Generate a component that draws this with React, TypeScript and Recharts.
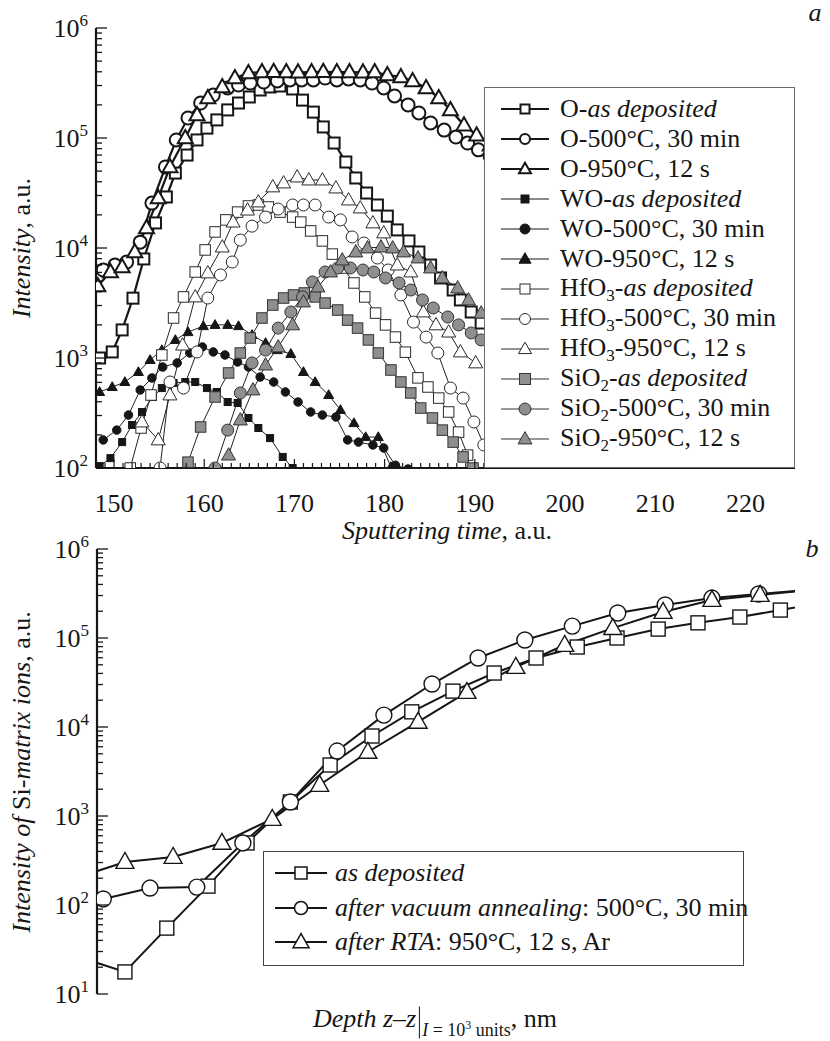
import React from 'react';
import { LineChart, Line, XAxis, YAxis, Legend } from 'recharts';

const SERIF = '"Liberation Serif", "Times New Roman", Times, serif';
const INK = '#161616';
const GREY = '#8f8f8f';

// ---- panel a: sputtering time (a.u.) / intensity (a.u.) ----
const oAsT = [148.4, 149.8, 150.9, 152.1, 153.3, 154.6, 155.8, 156.8, 158.1, 159.2, 160.3, 161.4, 162.6, 163.8, 165.0, 166.2, 167.3, 168.4, 169.8, 170.9, 172.1, 173.2, 174.4, 175.7, 176.8, 178.0, 179.2, 180.3, 181.4, 182.7, 183.8, 185.1, 186.2, 187.6, 188.4, 189.6, 190.7, 191.9];
const oAsI = [1000, 1135, 1800, 3500, 7950, 16900, 29100, 48000, 70000, 96000, 123000, 146000, 180000, 208000, 236000, 273000, 291000, 297000, 279000, 221000, 172000, 126000, 90000, 60500, 43300, 31600, 24600, 19500, 14600, 11600, 9200, 7000, 5340, 4150, 3370, 2620, 2080, 1650];

const o500T = [148.8, 150.1, 151.4, 152.9, 154.2, 155.7, 156.9, 158.2, 159.6, 161.0, 162.6, 163.8, 165.1, 166.6, 168.1, 169.5, 170.8, 172.1, 173.4, 174.7, 176.0, 177.3, 178.6, 179.9, 181.1, 182.6, 183.8, 185.1, 186.6, 187.9, 189.2, 190.4, 191.7];
const o500I = [6310, 7000, 7460, 11300, 25600, 54500, 96000, 152000, 208000, 246000, 285000, 303000, 316000, 323000, 330000, 337000, 337000, 337000, 351000, 337000, 344000, 337000, 316000, 285000, 241000, 200000, 169000, 137000, 118000, 102000, 90000, 78000, 68000];

const o950T = [148.2, 149.6, 150.9, 152.3, 153.6, 154.9, 156.2, 157.9, 159.2, 160.4, 162.0, 163.4, 164.9, 166.4, 167.7, 169.1, 170.4, 171.9, 173.2, 174.7, 176.1, 177.6, 178.9, 180.3, 181.8, 183.1, 184.6, 186.0, 187.3, 188.8, 190.2, 191.7];
const o950I = [4520, 6050, 6720, 9200, 15200, 28500, 54500, 100000, 162000, 231000, 291000, 351000, 390000, 398000, 400000, 398000, 396000, 398000, 400000, 398000, 398000, 396000, 398000, 374000, 359000, 330000, 285000, 231000, 180000, 131000, 106000, 86000];

const woAsT = [148.4, 149.6, 150.9, 152.0, 153.1, 154.3, 155.3, 156.6, 157.9, 159.0, 160.3, 161.4, 162.6, 163.7, 164.9, 166.0, 167.3, 168.7, 169.8];
const woAsI = [104, 123, 172, 246, 323, 442, 533, 593, 605, 605, 533, 491, 398, 390, 285, 231, 187, 126, 100];

const wo500T = [148.8, 150.3, 151.6, 152.9, 154.2, 155.4, 157.0, 158.4, 159.8, 161.0, 162.3, 163.7, 164.9, 166.2, 167.7, 169.0, 170.4, 171.8, 173.1, 174.6, 175.9, 177.1, 178.7, 179.9, 181.2, 182.6];
const wo500I = [180, 221, 303, 512, 658, 828, 902, 1110, 1260, 1135, 1065, 920, 828, 671, 605, 491, 398, 323, 303, 291, 180, 172, 162, 152, 106, 98];

const wo950T = [148.4, 149.8, 151.2, 152.7, 154.0, 155.3, 156.8, 158.2, 159.9, 161.2, 162.6, 163.8, 165.3, 166.8, 168.1, 169.6, 171.0, 172.3, 173.8, 175.1, 176.6, 177.9, 179.3, 180.7];
const wo950I = [491, 545, 605, 746, 960, 1180, 1460, 1720, 1950, 2000, 2000, 1950, 1620, 1370, 1180, 1090, 746, 605, 461, 337, 256, 191, 191, 102];

const hfAsT = [151.8, 153.0, 154.1, 155.3, 156.6, 157.7, 159.0, 160.1, 161.2, 162.4, 163.7, 164.9, 166.0, 167.1, 168.4, 169.8, 170.7, 171.8, 173.1, 174.2, 175.4, 176.6, 177.8, 179.0, 180.1, 181.2, 182.3, 183.7, 184.8, 186.0, 187.1, 188.2, 189.2];
const hfAsI = [100, 231, 461, 1065, 2310, 3590, 6050, 9600, 14000, 18000, 21200, 24100, 24600, 23600, 21200, 19100, 17200, 14300, 11600, 8800, 6580, 4810, 3590, 2560, 2000, 1550, 1130, 660, 545, 432, 323, 212, 131];

const hf500T = [155.1, 156.2, 157.7, 159.2, 160.4, 161.8, 163.1, 164.0, 165.3, 166.8, 168.2, 169.8, 171.0, 172.3, 173.8, 175.1, 176.4, 177.7, 179.2, 180.4, 181.8, 183.2, 184.6, 185.9, 187.3, 188.7, 189.9, 191.0];
const hf500I = [100, 605, 533, 1135, 3510, 5690, 7460, 11800, 15800, 19100, 22600, 24600, 24600, 24600, 19100, 18000, 12600, 11100, 8110, 6310, 3740, 2120, 1550, 1110, 533, 432, 262, 162];

const hf950T = [153.1, 154.9, 156.2, 157.6, 159.0, 160.4, 162.0, 163.2, 164.8, 166.0, 167.6, 168.8, 170.3, 171.6, 173.1, 174.6, 176.0, 177.3, 178.7, 179.9, 181.4, 182.9, 184.3, 185.7, 187.1, 188.4, 190.1];
const hf950I = [262, 180, 461, 1310, 3590, 5930, 10200, 17200, 22100, 26200, 35900, 39000, 44200, 41500, 41500, 35100, 27300, 23100, 16900, 13700, 7000, 6050, 2620, 2000, 1720, 1135, 902];

const siAsT = [158.2, 159.6, 161.2, 162.7, 164.0, 165.1, 166.4, 167.6, 168.8, 169.9, 171.1, 172.3, 173.4, 174.8, 175.9, 177.0, 178.2, 179.3, 180.7, 181.8, 182.9, 184.0, 185.3, 186.4, 187.6, 188.7, 189.8];
const siAsI = [113, 236, 442, 731, 1110, 1520, 2310, 3030, 3510, 3740, 3900, 3590, 3160, 2730, 2210, 1870, 1460, 1110, 778, 605, 481, 351, 285, 221, 172, 126, 100];

const si500T = [161.2, 162.6, 164.0, 165.3, 166.8, 168.2, 169.6, 170.9, 172.0, 173.4, 174.8, 176.2, 177.6, 178.8, 180.1, 181.6, 182.9, 184.2, 185.4, 187.0, 188.2, 189.6, 190.7];
const si500I = [100, 221, 481, 902, 1180, 1870, 2620, 3590, 4910, 6050, 6580, 6580, 6310, 6050, 5340, 4810, 4150, 3370, 2850, 2360, 2000, 1690, 1460];

const si950T = [162.7, 164.0, 165.4, 166.8, 168.2, 169.8, 171.0, 172.6, 174.0, 175.3, 176.8, 178.1, 179.6, 180.9, 182.1, 183.7, 185.1, 186.4, 188.1, 189.3, 190.7];
const si950I = [131, 273, 512, 863, 1260, 2000, 3230, 4420, 6050, 7780, 9200, 10000, 10200, 10000, 9200, 8110, 6580, 5340, 4330, 3370, 2560];

const materials = ['O', 'WO', 'HfO3', 'SiO2'];
const treatments = ['as deposited', '500°C, 30 min', '950°C, 12 s'];
const xMajorA = [150, 160, 170, 180, 190, 200, 210, 220];

// ---- panel b: depth (unlabelled axis, arbitrary units) / Si-matrix intensity ----
const depthSq = [-1.9, 4.0, 10.0, 15.9, 21.5, 27.7, 33.4, 39.4, 45.1, 51.0, 56.9, 62.9, 68.8, 74.5, 80.4, 86.1, 92.1, 97.9, 103.6];
const siSq = [25, 17.7, 55, 163, 498, 1436, 3740, 7920, 14800, 25300, 40400, 59600, 79200, 100000, 126000, 148000, 172000, 206000, 247000];
const depthCi = [0.9, 7.6, 14.3, 20.9, 27.7, 34.4, 41.1, 48.0, 54.6, 61.3, 68.1, 74.6, 81.4, 88.1, 94.8, 101.6];
const siCi = [117, 155, 159, 498, 1436, 5370, 13600, 30400, 59600, 95000, 136000, 191000, 235000, 281000, 312000, 346000];
const depthTr = [-3.0, 4.0, 10.9, 17.9, 25.1, 31.9, 38.8, 46.0, 53.0, 60.0, 67.0, 73.9, 81.1, 88.1, 95.0, 102.0];
const siTr = [201, 304, 346, 498, 925, 2230, 5240, 11400, 24700, 47200, 83400, 129000, 196000, 267000, 304000, 346000];
const bLabels = [['as deposited', ''], ['after vacuum annealing', ': 500°C, 30 min'], ['after RTA', ': 950°C, 12 s, Ar']];

const decadesA = [100, 1000, 10000, 100000, 1000000];
const decadesB = [10, 100, 1000, 10000, 100000, 1000000];

function logTicks(decades: number[]) {
  const out: number[] = [];
  decades.slice(0, -1).forEach(d => { for (let m = 1; m < 10; m++) out.push(d * m); });
  out.push(decades[decades.length - 1]);
  return out;
}
const yTicksA = logTicks(decadesA);
const yTicksB = logTicks(decadesB);
const xTicksA: number[] = [];
for (let t = 148; t <= 225; t++) xTicksA.push(t);

type Shape = 'square' | 'circle' | 'triangle';

function Mark({ shape, cx, cy, size, fill, stroke, sw }: any) {
  if (cx == null || cy == null || isNaN(cx) || isNaN(cy)) return <g />;
  const h = size / 2;
  if (shape === 'square') return <rect x={cx - h} y={cy - h} width={size} height={size} fill={fill} stroke={stroke} strokeWidth={sw} />;
  if (shape === 'circle') return <circle cx={cx} cy={cy} r={h} fill={fill} stroke={stroke} strokeWidth={sw} />;
  const th = size * 0.88;
  return <polygon points={`${cx},${cy - th * 0.6} ${cx - h},${cy + th * 0.4} ${cx + h},${cy + th * 0.4}`}
    fill={fill} stroke={stroke} strokeWidth={sw} />;
}

const shapes: Shape[] = ['square', 'circle', 'triangle'];
const groupStyle = [
  { fill: '#fff', stroke: INK, sw: 2, lw: 2.2, size: [11, 13, 15], leg: [9, 10, 12] },
  { fill: INK, stroke: INK, sw: 1, lw: 1, size: [7, 8.5, 10], leg: [8, 10, 12] },
  { fill: '#fff', stroke: '#2a2a2a', sw: 1, lw: 1, size: [10.5, 12, 14], leg: [10, 11, 13] },
  { fill: GREY, stroke: '#333', sw: 1, lw: 1, size: [10.5, 12, 14], leg: [11, 12, 14] },
];
const topData = [
  [oAsT, oAsI], [o500T, o500I], [o950T, o950I],
  [woAsT, woAsI], [wo500T, wo500I], [wo950T, wo950I],
  [hfAsT, hfAsI], [hf500T, hf500I], [hf950T, hf950I],
  [siAsT, siAsI], [si500T, si500I], [si950T, si950I],
];
const topSeries = topData.map(([t, v], i) => {
  const g = Math.floor(i / 3), k = i % 3, st = groupStyle[g];
  return {
    id: `s${i}`, g, k, shape: shapes[k], fill: st.fill, stroke: st.stroke, sw: st.sw, lw: st.lw,
    size: st.size[k], leg: st.leg[k],
    data: t.map((x, j) => ({ t: x, v: v[j] })),
  };
});

const botSeries = [[depthSq, siSq], [depthCi, siCi], [depthTr, siTr]].map(([d, v], k) => ({
  id: `b${k}`, shape: shapes[k], size: [14, 16, 18][k], leg: [12, 13, 16][k],
  data: d.map((x, j) => ({ u: x, v: v[j] })),
}));

// chart boxes (panel b sits in its own svg starting at page y = 520)
const A = { h: 520, left: 96, right: 795, top: 28, bottom: 468 };
const B = { y0: 520, h: 521, left: 97, right: 795, top: 29, bottom: 474 };
const AX = { stroke: INK, strokeWidth: 2.2 };

function Pow({ e }: { e: number }) {
  return <>10<tspan dy={-11} fontSize={17}>{e}</tspan></>;
}
const isMajor = (v: number) => Math.abs(Math.log10(v) - Math.round(Math.log10(v))) < 1e-9;

const yTickLeft = (box: any) => (p: any) => {
  const v = p.payload.value, maj = isMajor(v);
  return (
    <g>
      <line x1={box.left} x2={box.left + (maj ? 11 : 6)} y1={p.y} y2={p.y} stroke={INK} strokeWidth={1.3} />
      {maj && <text x={box.left - 8} y={p.y + 9} textAnchor="end" fontSize={26} fontFamily={SERIF} fill={INK}>
        <Pow e={Math.round(Math.log10(v))} /></text>}
    </g>
  );
};
const yTickRight = (box: any) => (p: any) => {
  const maj = isMajor(p.payload.value);
  return <line x1={box.right} x2={box.right - (maj ? 11 : 6)} y1={p.y} y2={p.y} stroke={INK} strokeWidth={1.3} />;
};
const xTickBottomA = (p: any) => {
  const v = p.payload.value, maj = xMajorA.includes(v);
  return (
    <g>
      <line x1={p.x} x2={p.x} y1={A.bottom} y2={A.bottom - (maj ? 9 : 5)} stroke={INK} strokeWidth={1.2} />
      {maj && <text x={p.x} y={A.bottom + 44} textAnchor="middle" fontSize={26} fontFamily={SERIF} fill={INK}>{v}</text>}
    </g>
  );
};
const xTickTopA = (p: any) => {
  const maj = xMajorA.includes(p.payload.value);
  return <line x1={p.x} x2={p.x} y1={A.top} y2={A.top + (maj ? 9 : 5)} stroke={INK} strokeWidth={1.2} />;
};

function matLabel(m: string) {
  const sub = m.match(/\d$/);
  return sub ? <>{m.slice(0, -1)}<span style={{ fontSize: 17, position: 'relative', top: 5 }}>{sub[0]}</span></> : <>{m}</>;
}

const TopLegend = () => (
  <div style={{ width: 311, height: 381, boxSizing: 'border-box', border: '1.5px solid #6a6a6a', background: '#fff',
    paddingTop: 6, fontFamily: SERIF, fontSize: 26, color: INK }}>
    {topSeries.map(s => {
      const tr = treatments[s.k];
      return (
        <div key={s.id} style={{ display: 'flex', alignItems: 'center', height: 30, whiteSpace: 'nowrap', lineHeight: '26px' }}>
          <svg width={75} height={30} style={{ flex: 'none' }}>
            <line x1={16} x2={64} y1={15} y2={15} stroke={s.stroke} strokeWidth={s.g === 0 ? 2 : 1} />
            <Mark shape={s.shape} cx={40} cy={15} size={s.leg} fill={s.fill} stroke={s.stroke} sw={s.g === 0 ? 2 : 1} />
          </svg>
          <span>{matLabel(materials[s.g])}-{s.k === 0 ? <i>{tr}</i> : tr}</span>
        </div>
      );
    })}
  </div>
);

const BottomLegend = () => (
  <div style={{ width: 481, height: 115, boxSizing: 'border-box', border: '1px solid #444', background: '#fff',
    paddingTop: 4, fontFamily: SERIF, fontSize: 26, color: INK }}>
    {botSeries.map((s, i) => (
      <div key={s.id} style={{ display: 'flex', alignItems: 'center', height: 34.5, whiteSpace: 'nowrap' }}>
        <svg width={71} height={34} style={{ flex: 'none' }}>
          <line x1={11} x2={63} y1={17} y2={17} stroke={INK} strokeWidth={2} />
          <Mark shape={s.shape} cx={37} cy={17} size={s.leg} fill="#fff" stroke={INK} sw={1.5} />
        </svg>
        <span><i>{bLabels[i][0]}</i>{bLabels[i][1]}</span>
      </div>
    ))}
  </div>
);

const txt = (left: number, top: number, rot = false): React.CSSProperties => ({
  position: 'absolute', left, top, transform: `translate(-50%, -50%)${rot ? ' rotate(-90deg)' : ''}`,
  fontFamily: SERIF, fontSize: 26, color: INK, whiteSpace: 'nowrap', lineHeight: 1,
});

export default function App() {
  return (
    <div style={{ position: 'absolute', left: 0, top: 0, width: 830, height: 1041, background: '#fff' }}>
      <div style={{ position: 'absolute', left: 0, top: 0 }}>
        <LineChart width={830} height={A.h} margin={{ top: A.top, right: 830 - A.right, bottom: A.h - A.bottom - 50, left: A.left - 60 }}>
          <XAxis xAxisId="b" dataKey="t" type="number" domain={[148, 225.5]} allowDataOverflow ticks={xTicksA}
            interval={0} tick={xTickBottomA} tickLine={false} axisLine={AX} height={50} />
          <XAxis xAxisId="t" dataKey="t" orientation="top" type="number" domain={[148, 225.5]} allowDataOverflow
            ticks={xTicksA} interval={0} tick={xTickTopA} tickLine={false} axisLine={AX} height={0} />
          <YAxis yAxisId="l" type="number" scale="log" domain={[100, 1000000]} allowDataOverflow ticks={yTicksA}
            interval={0} tick={yTickLeft(A)} tickLine={false} axisLine={AX} width={60} />
          <YAxis yAxisId="r" orientation="right" type="number" scale="log" domain={[100, 1000000]} allowDataOverflow
            ticks={yTicksA} interval={0} tick={yTickRight(A)} tickLine={false} axisLine={AX} width={0} />
          {topSeries.map(s => (
            <Line key={s.id} data={s.data} dataKey="v" xAxisId="b" yAxisId="l" stroke={s.g === 0 ? INK : '#222'}
              strokeWidth={s.lw} isAnimationActive={false} activeDot={false} legendType="none"
              dot={(p: any) => <Mark key={`${s.id}-${p.index}`} shape={s.shape} cx={p.cx} cy={p.cy} size={s.size}
                fill={s.fill} stroke={s.stroke} sw={s.sw} />} />
          ))}
          <Legend layout="horizontal" verticalAlign="middle" align="center" content={() => <TopLegend />}
            wrapperStyle={{ left: 484, top: 87, width: 311, height: 381 }} />
        </LineChart>
      </div>

      <div style={{ position: 'absolute', left: 0, top: B.y0 }}>
        <LineChart width={830} height={B.h} margin={{ top: B.top, right: 830 - B.right, bottom: B.h - B.bottom, left: B.left - 60 }}>
          <XAxis xAxisId="b" dataKey="u" type="number" domain={[0, 100]} allowDataOverflow tick={false}
            tickLine={false} axisLine={AX} height={0} />
          <XAxis xAxisId="t" dataKey="u" orientation="top" type="number" domain={[0, 100]} allowDataOverflow
            tick={false} tickLine={false} axisLine={AX} height={0} />
          <YAxis yAxisId="l" type="number" scale="log" domain={[10, 1000000]} allowDataOverflow ticks={yTicksB}
            interval={0} tick={yTickLeft(B)} tickLine={false} axisLine={AX} width={60} />
          <YAxis yAxisId="r" orientation="right" type="number" scale="log" domain={[10, 1000000]} allowDataOverflow
            ticks={yTicksB} interval={0} tick={yTickRight(B)} tickLine={false} axisLine={AX} width={0} />
          {botSeries.map(s => (
            <Line key={s.id} data={s.data} dataKey="v" xAxisId="b" yAxisId="l" stroke={INK} strokeWidth={2}
              isAnimationActive={false} activeDot={false} legendType="none"
              dot={(p: any) => <Mark key={`${s.id}-${p.index}`} shape={s.shape} cx={p.cx} cy={p.cy} size={s.size}
                fill="#fff" stroke={INK} sw={1.4} />} />
          ))}
          <Legend layout="horizontal" verticalAlign="middle" align="center" content={() => <BottomLegend />}
            wrapperStyle={{ left: 263, top: 851 - B.y0, width: 481, height: 115 }} />
        </LineChart>
      </div>

      <div style={txt(815, 13)}><i>a</i></div>
      <div style={txt(812, 549)}><i>b</i></div>
      <div style={txt(22, 248, true)}><i>Intensity</i>, a.u.</div>
      <div style={txt(447, 531)}><i>Sputtering time</i>, a.u.</div>
      <div style={txt(22, 772, true)}><i>Intensity of</i> Si-<i>matrix ions</i>, a.u.</div>
      <div style={txt(435, 1022)}>
        <i>Depth z</i>–<i>z</i>
        <span style={{ display: 'inline-block', width: 0, height: 32, borderLeft: '1.6px solid #161616', verticalAlign: -12, margin: '0 2px 0 3px' }} />
        <span style={{ fontSize: 18, position: 'relative', top: 9 }}><i>I</i> = 10<span style={{ fontSize: 12, position: 'relative', top: -7 }}>3</span> units</span>, nm
      </div>
    </div>
  );
}
